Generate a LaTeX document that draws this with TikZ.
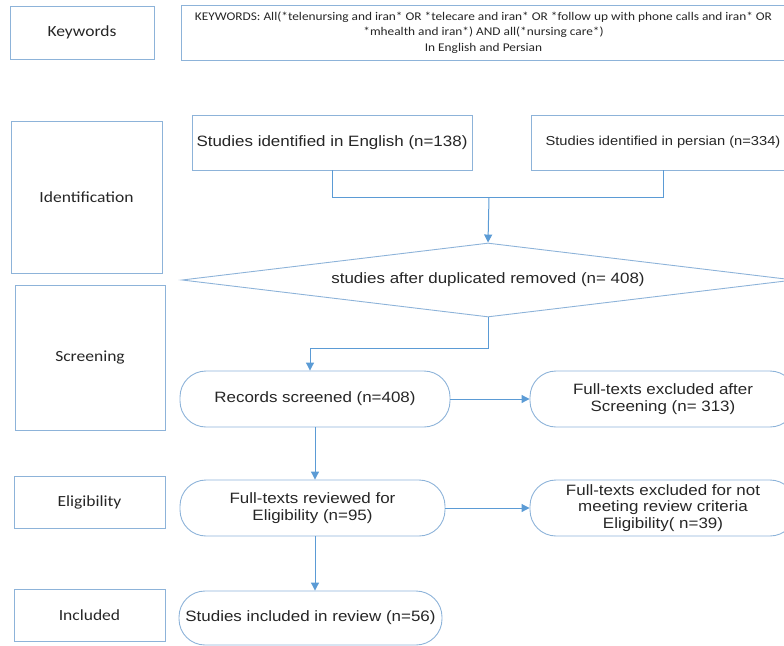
\documentclass[tikz,border=0pt]{standalone}
\usepackage{fontspec}
\setmainfont[FakeStretch=1.13]{Liberation Sans}
\newfontfamily\calfont[FakeStretch=1.13]{Carlito}
\usetikzlibrary{shapes.geometric,arrows.meta}
\definecolor{boxc}{HTML}{8DB3D9}
\definecolor{arr}{HTML}{5B9BD5}
\begin{document}
\begin{tikzpicture}[x=1pt,y=-1pt,
 lab/.style={draw=boxc, line width=0.9pt, inner sep=0pt, font=\calfont\fontsize{15.5}{18}\selectfont, text=black!85},
 sq/.style={draw=boxc, line width=0.9pt, inner sep=0pt, align=center, text=black!85, font=\fontsize{15}{16.8}\selectfont},
 rr/.style={sq, rounded corners=26pt},
 conn/.style={draw=arr, line width=1pt},
 arrow/.style={conn, -{Triangle[length=8pt,width=8pt]}}]
\useasboundingbox (0,0) rectangle (784,645);
% side labels
\node[lab, minimum width=144pt, minimum height=53pt] (kw) at (82,32.5) {Keywords};
\node[lab, minimum width=151pt, minimum height=152pt] (idl) at (86.5,197) {Identification};
\node[lab, minimum width=150pt, minimum height=145pt] (scl) at (90,357.5) {Screening};
\node[lab, minimum width=151pt, minimum height=52pt] (ell) at (89.5,502) {Eligibility};
\node[lab, minimum width=151pt, minimum height=52pt] (inl) at (89.5,615) {Included};
% keywords text
\node[lab, minimum width=605pt, minimum height=55pt, align=center, font=\calfont\fontsize{11.8}{15.5}\selectfont] (kwt) at (483.5,32.5)
 {KEYWORDS: All(*telenursing and iran* OR *telecare and iran* OR *follow up with phone calls and iran* OR\\
  *mhealth and iran*) AND all(*nursing care*)\\ In English and Persian};
% flow
\node[sq, minimum width=280pt, minimum height=55pt] (eng) at (332,142.5) {Studies identified in English (n=138)};
\node[sq, minimum width=264pt, minimum height=55pt, font=\fontsize{13}{15}\selectfont] (per) at (663,142.5) {Studies identified in persian (n=334)};
\node[sq, diamond, aspect=8.27, minimum width=612pt, minimum height=74pt] (dia) at (488,280) {studies after duplicated removed (n= 408)};
\node[rr, minimum width=270pt, minimum height=56pt] (rec) at (315,399) {Records screened (n=408)};
\node[rr, minimum width=266pt, minimum height=56pt] (ex1) at (663,399) {Full-texts excluded after\\Screening (n= 313)};
\node[rr, minimum width=265pt, minimum height=56pt] (rev) at (312.5,508) {Full-texts reviewed for\\Eligibility (n=95)};
\node[rr, minimum width=266pt, minimum height=56pt] (ex2) at (663,508) {Full-texts excluded for not\\meeting review criteria\\Eligibility( n=39)};
\node[rr, minimum width=263pt, minimum height=54pt] (inc) at (310.5,618) {Studies included in review (n=56)};
% connectors
\coordinate (j) at (489,197.5);
\coordinate (k) at (488,348);
\coordinate (m) at (310,348);
\draw[conn] (eng.south) |- (j) -| (per.south);
\draw[arrow] (j) -- (dia.north);
\draw[arrow] (dia.south) -- (k) -- (m) -- (m |- rec.north);
\draw[arrow] (rec.east) -- (ex1.west);
\draw[arrow] (rec.south) -- (rec.south |- rev.north);
\draw[arrow] (rev.east) -- (ex2.west);
\draw[arrow] (rec.south |- rev.south) -- (rec.south |- inc.north);
\end{tikzpicture}
\end{document}
